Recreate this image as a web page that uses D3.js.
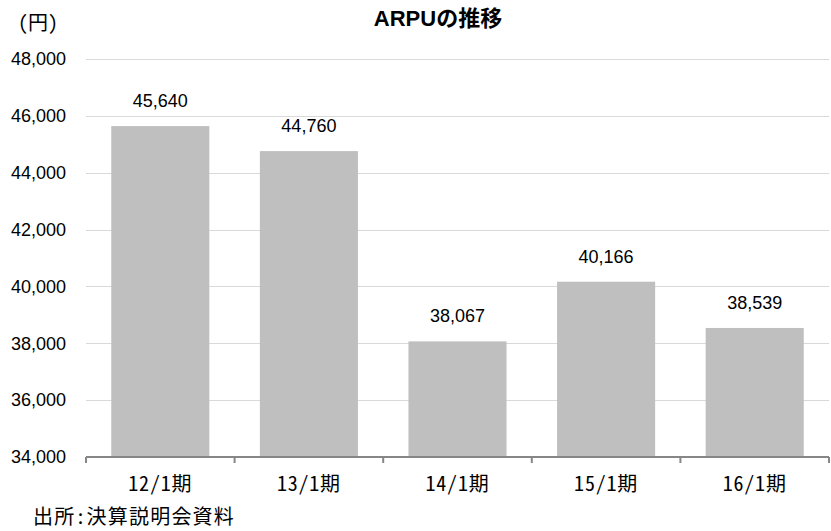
<!DOCTYPE html>
<html>
<head>
<meta charset="utf-8">
<script src="https://cdn.jsdelivr.net/npm/d3@7"></script>
<style>
  html, body { margin: 0; padding: 0; background: #fff; }
  svg { display: block; }
  .hw { font-feature-settings: "hwid" 1; }
</style>
</head>
<body>
<svg id="chart" width="831" height="531"></svg>
<script>
// ARPU by fiscal period (yen)
const categories = ["12/1期", "13/1期", "14/1期", "15/1期", "16/1期"];
const arpu = [45640, 44760, 38067, 40166, 38539];
const yTicks = [34000, 36000, 38000, 40000, 42000, 44000, 46000, 48000];

const svg = d3.select("#chart");
const W = 831, H = 531;
const margin = { left: 86, right: 2, top: 59, bottom: 74 };

const x = d3.scaleBand()
  .domain(categories)
  .range([margin.left, W - margin.right])
  .paddingInner(0.34)
  .paddingOuter(0.17);

const y = d3.scaleLinear()
  .domain([34000, 48000])
  .range([H - margin.bottom, margin.top]);

const latin = "'Liberation Sans', Arial, sans-serif";
const cjk = "'Noto Sans CJK JP', sans-serif";

// horizontal gridlines
svg.append("g")
  .selectAll("line")
  .data(yTicks.filter(d => d > 34000))
  .join("line")
  .attr("x1", margin.left)
  .attr("x2", W - margin.right)
  .attr("y1", d => Math.round(y(d)) + 0.5)
  .attr("y2", d => Math.round(y(d)) + 0.5)
  .attr("stroke", "#d9d9d9")
  .attr("stroke-width", 1);

// y axis labels
const yAxis = d3.axisLeft(y)
  .tickValues(yTicks)
  .tickFormat(d3.format(","))
  .tickSize(0)
  .tickPadding(20);
svg.append("g")
  .attr("transform", `translate(${margin.left},0)`)
  .call(yAxis)
  .call(g => g.select(".domain").remove())
  .call(g => g.selectAll("text")
    .attr("font-family", latin)
    .attr("font-size", 18)
    .attr("fill", "#000"));

// bars
svg.append("g")
  .selectAll("rect")
  .data(arpu)
  .join("rect")
  .attr("x", (d, i) => x(categories[i]))
  .attr("width", x.bandwidth())
  .attr("y", d => y(d))
  .attr("height", d => y(34000) - y(d))
  .attr("fill", "#bfbfbf");

// value labels
svg.append("g")
  .selectAll("text")
  .data(arpu)
  .join("text")
  .attr("x", (d, i) => x(categories[i]) + x.bandwidth() / 2)
  .attr("y", d => y(d) - 19)
  .attr("text-anchor", "middle")
  .attr("font-family", latin)
  .attr("font-size", 18)
  .attr("fill", "#000")
  .text(d => d3.format(",")(d));

// x axis with boundary ticks between categories
const boundaries = d3.range(categories.length + 1).map(i => margin.left + i * (W - margin.right - margin.left) / categories.length);
const axisY = y(34000);
svg.append("line")
  .attr("x1", margin.left)
  .attr("x2", W - margin.right)
  .attr("y1", axisY)
  .attr("y2", axisY)
  .attr("stroke", "#868686")
  .attr("stroke-width", 2);
svg.append("g")
  .selectAll("line")
  .data(boundaries)
  .join("line")
  .attr("x1", d => d)
  .attr("x2", d => d)
  .attr("y1", axisY)
  .attr("y2", axisY + 6)
  .attr("stroke", "#868686")
  .attr("stroke-width", 2);

// category labels
svg.append("g")
  .selectAll("text")
  .data(categories)
  .join("text")
  .attr("class", "hw")
  .attr("x", d => x(d) + x.bandwidth() / 2)
  .attr("y", axisY + 34)
  .attr("text-anchor", "middle")
  .attr("font-family", cjk)
  .attr("font-size", 20)
  .attr("letter-spacing", 0.8)
  .attr("fill", "#000")
  .text(d => d);

// title
svg.append("text")
  .attr("x", 438)
  .attr("y", 26)
  .attr("text-anchor", "middle")
  .attr("font-family", latin)
  .attr("font-weight", "bold")
  .attr("font-size", 22)
  .attr("fill", "#000")
  .text("ARPU")
  .append("tspan")
  .attr("font-family", cjk)
  .text("の推移");

// unit
svg.append("text")
  .attr("class", "hw")
  .attr("x", 18)
  .attr("y", 30)
  .attr("font-family", cjk)
  .attr("font-size", 20)
  .attr("fill", "#000")
  .text("(円)");

// source
svg.append("text")
  .attr("class", "hw")
  .attr("x", 33)
  .attr("y", 524)
  .attr("font-family", cjk)
  .attr("font-size", 20)
  .attr("letter-spacing", 1.2)
  .attr("fill", "#000")
  .text("出所:決算説明会資料");
</script>
</body>
</html>
